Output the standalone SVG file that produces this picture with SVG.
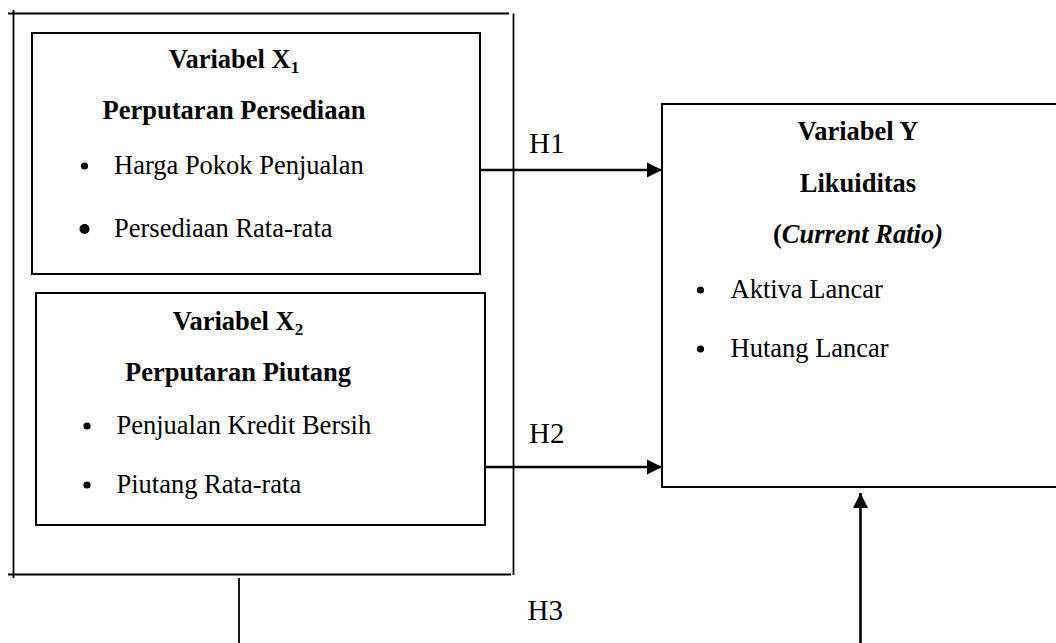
<svg xmlns="http://www.w3.org/2000/svg" width="1056" height="643" viewBox="0 0 1056 643">
<style>
text{font-family:"Liberation Serif","Times New Roman",serif;fill:#000}
.t{font-size:26.5px}
.b{font-weight:bold}
.h{font-size:29px}
.box{fill:none;stroke:#000;stroke-width:2}
.frame{stroke:#000;stroke-width:1.8;fill:none}
.conn{stroke:#000;stroke-width:2.6;fill:none}
</style>
<defs>
<marker id="arr" markerUnits="userSpaceOnUse" markerWidth="16" markerHeight="16" refX="15" refY="8" orient="auto">
<path d="M0,0.5 L15,8 L0,15.5 z" fill="#000"/>
</marker>
</defs>
<g id="frame">
<line class="frame" x1="8" y1="13.5" x2="509" y2="13.5"/>
<line class="frame" x1="13.5" y1="10" x2="13.5" y2="578"/>
<line class="frame" x1="513.5" y1="13.5" x2="513.5" y2="575"/>
<line class="frame" x1="8" y1="574.5" x2="511" y2="574.5"/>
</g>
<g id="x1">
<rect class="box" x="32" y="33" width="448" height="241"/>
<text class="t b" x="234" y="68" text-anchor="middle">Variabel X<tspan font-size="17" dy="5">1</tspan></text>
<text class="t b" x="234" y="119" text-anchor="middle">Perputaran Persediaan</text>
<circle cx="84.5" cy="166" r="3.6"/>
<text class="t" x="114" y="174">Harga Pokok Penjualan</text>
<circle cx="84.5" cy="229" r="5"/>
<text class="t" x="114" y="237">Persediaan Rata-rata</text>
</g>
<g id="x2">
<rect class="box" x="36" y="293" width="449" height="232"/>
<text class="t b" x="238" y="330" text-anchor="middle">Variabel X<tspan font-size="17" dy="5">2</tspan></text>
<text class="t b" x="238" y="381" text-anchor="middle">Perputaran Piutang</text>
<circle cx="87" cy="426" r="3.6"/>
<text class="t" x="116.5" y="434">Penjualan Kredit Bersih</text>
<circle cx="87" cy="485" r="3.6"/>
<text class="t" x="116.5" y="493">Piutang Rata-rata</text>
</g>
<g id="y">
<rect class="box" x="662" y="104" width="420" height="383"/>
<text class="t b" x="858" y="140" text-anchor="middle">Variabel Y</text>
<text class="t b" x="858" y="192" text-anchor="middle">Likuiditas</text>
<text class="t b" x="858" y="243" text-anchor="middle">(<tspan font-style="italic">Current Ratio)</tspan></text>
<circle cx="700.5" cy="290" r="3.6"/>
<text class="t" x="730.5" y="298">Aktiva Lancar</text>
<circle cx="700.5" cy="349" r="3.6"/>
<text class="t" x="730.5" y="357">Hutang Lancar</text>
</g>
<g id="connectors">
<line class="conn" x1="481" y1="170" x2="662" y2="170" marker-end="url(#arr)"/>
<line class="conn" x1="485" y1="467" x2="662" y2="467" marker-end="url(#arr)"/>
<line class="frame" x1="239" y1="578" x2="239" y2="643"/>
<line class="conn" x1="860.5" y1="643" x2="860.5" y2="493" marker-end="url(#arr)"/>
</g>
<g id="labels">
<text class="h" x="529" y="153">H1</text>
<text class="h" x="529" y="443">H2</text>
<text class="h" x="527.5" y="620">H3</text>
</g>
</svg>
